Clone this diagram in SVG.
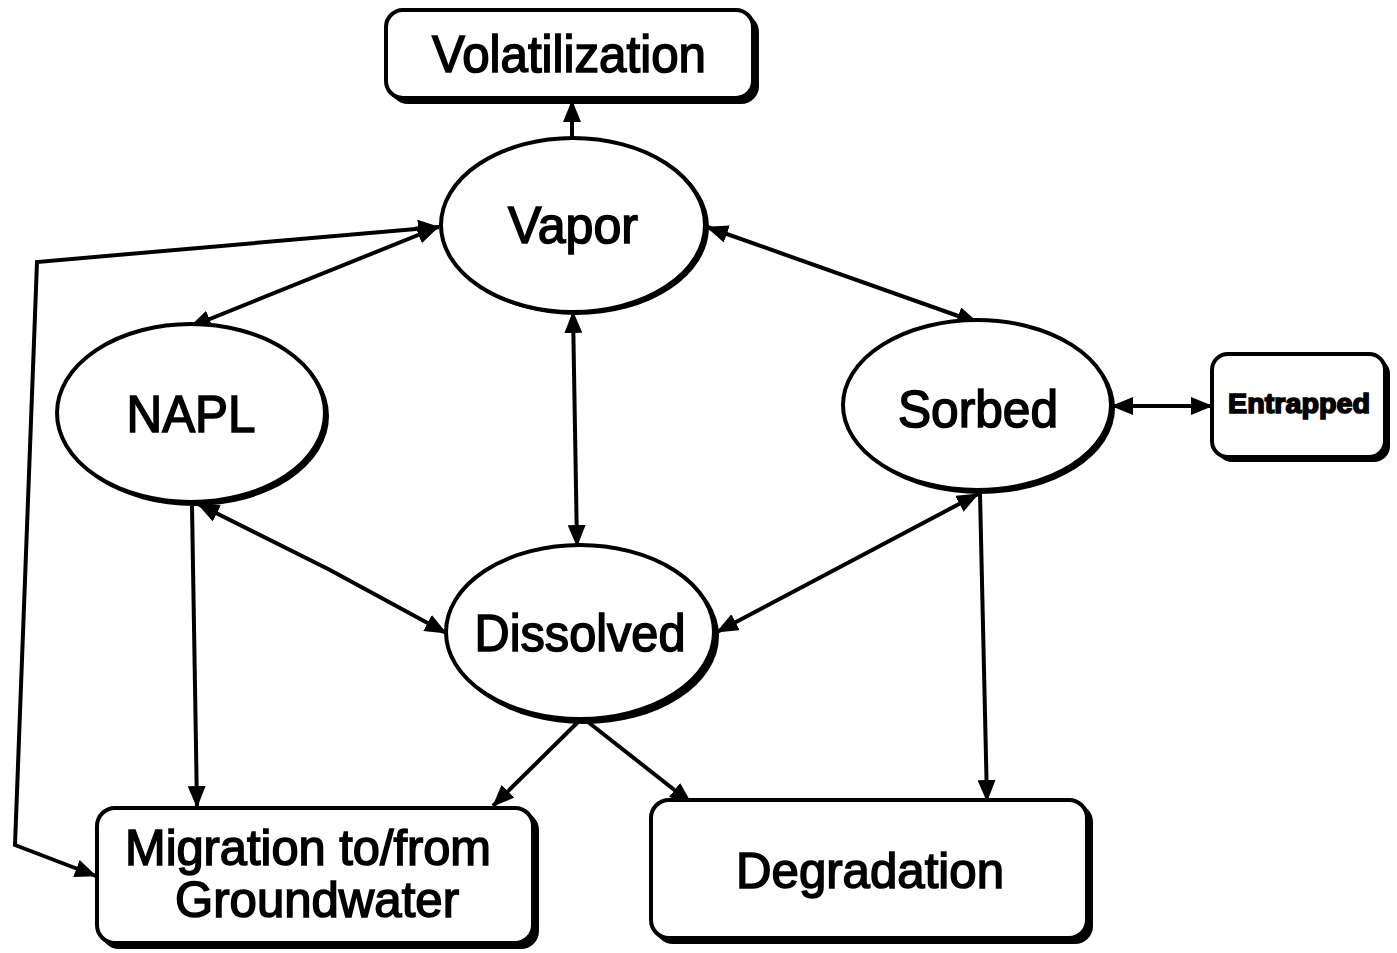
<svg xmlns="http://www.w3.org/2000/svg" width="1397" height="953" viewBox="0 0 1397 953">
<style>
.box{fill:#fff;stroke:#000;stroke-width:4}
.sh{fill:#000}
.ell{fill:#fff;stroke:#000;stroke-width:4}
.t{font-family:"Liberation Sans",Arial,sans-serif;fill:#000;text-anchor:middle;stroke:#000;stroke-width:1.6}
.c{fill:none;stroke:#000;stroke-width:4}
</style>
<defs>
<marker id="ah" viewBox="0 0 22 18" refX="21" refY="9" markerWidth="22" markerHeight="18" markerUnits="userSpaceOnUse" orient="auto-start-reverse">
<path d="M0,0 L22,9 L0,18 Z" fill="#000"/>
</marker>
</defs>
<rect width="1397" height="953" fill="#fff"/>
<g id="connectors">
<line class="c" x1="572" y1="137" x2="572" y2="101" marker-end="url(#ah)"/>
<line class="c" x1="190" y1="327" x2="438" y2="227" marker-start="url(#ah)" marker-end="url(#ah)"/>
<line class="c" x1="707" y1="227" x2="978" y2="323" marker-start="url(#ah)" marker-end="url(#ah)"/>
<line class="c" x1="573" y1="312" x2="577" y2="546" marker-start="url(#ah)" marker-end="url(#ah)"/>
<line class="c" x1="1112" y1="406" x2="1212" y2="406" marker-start="url(#ah)" marker-end="url(#ah)"/>
<polyline class="c" points="198,504 330,570 446,633" marker-start="url(#ah)" marker-end="url(#ah)"/>
<line class="c" x1="978" y1="494" x2="717" y2="632" marker-start="url(#ah)" marker-end="url(#ah)"/>
<line class="c" x1="192" y1="506" x2="197" y2="807" marker-end="url(#ah)"/>
<line class="c" x1="578" y1="722" x2="493" y2="806" marker-end="url(#ah)"/>
<line class="c" x1="588" y1="722" x2="691" y2="803" marker-end="url(#ah)"/>
<line class="c" x1="980" y1="494" x2="987" y2="801" marker-end="url(#ah)"/>
<polyline class="c" points="96,876 15,845 37,262 439,227" marker-start="url(#ah)" marker-end="url(#ah)"/>
</g>
<g id="volatilization">
<rect class="sh" x="390" y="14" width="369" height="90" rx="18"/>
<rect class="box" x="386" y="10" width="367" height="88" rx="17"/>
<text class="t" x="569" y="72" font-size="52" textLength="274" lengthAdjust="spacingAndGlyphs">Volatilization</text>
</g>
<g id="vapor">
<ellipse class="sh" cx="576" cy="227" rx="133" ry="88"/>
<ellipse class="ell" cx="573" cy="225" rx="132" ry="87"/>
<text class="t" x="573" y="243" font-size="52" textLength="130" lengthAdjust="spacingAndGlyphs">Vapor</text>
</g>
<g id="napl">
<ellipse class="sh" cx="194" cy="416" rx="135" ry="90"/>
<ellipse class="ell" cx="191" cy="413" rx="134" ry="89"/>
<text class="t" x="191" y="432" font-size="52" textLength="129" lengthAdjust="spacingAndGlyphs">NAPL</text>
</g>
<g id="sorbed">
<ellipse class="sh" cx="980" cy="408" rx="135" ry="86"/>
<ellipse class="ell" cx="977" cy="405" rx="134" ry="85"/>
<text class="t" x="978" y="427" font-size="52" textLength="160" lengthAdjust="spacingAndGlyphs">Sorbed</text>
</g>
<g id="dissolved">
<ellipse class="sh" cx="584" cy="636" rx="135" ry="88"/>
<ellipse class="ell" cx="580" cy="632" rx="134" ry="87"/>
<text class="t" x="580" y="651" font-size="52" textLength="211" lengthAdjust="spacingAndGlyphs">Dissolved</text>
</g>
<g id="entrapped">
<rect class="sh" x="1216" y="358" width="174" height="104" rx="16"/>
<rect class="box" x="1212" y="354" width="173" height="103" rx="16"/>
<text class="t" x="1299" y="413" font-size="28" font-weight="bold" textLength="142" lengthAdjust="spacingAndGlyphs">Entrapped</text>
</g>
<g id="migration">
<rect class="sh" x="101" y="812" width="438" height="137" rx="18"/>
<rect class="box" x="97" y="808" width="436" height="135" rx="18"/>
<text class="t" x="308" y="865" font-size="50" textLength="366" lengthAdjust="spacingAndGlyphs">Migration to/from</text>
<text class="t" x="317" y="917" font-size="50" textLength="284" lengthAdjust="spacingAndGlyphs">Groundwater</text>
</g>
<g id="degradation">
<rect class="sh" x="655" y="804" width="438" height="140" rx="18"/>
<rect class="box" x="651" y="800" width="436" height="138" rx="18"/>
<text class="t" x="870" y="888" font-size="50" textLength="268" lengthAdjust="spacingAndGlyphs">Degradation</text>
</g>
</svg>
